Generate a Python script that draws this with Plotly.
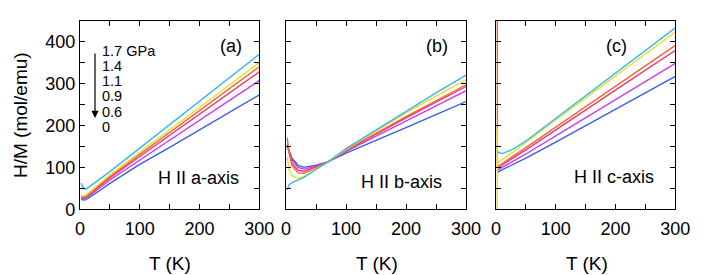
import plotly.graph_objects as go

W, H = 720, 275

pressures = ["0", "0.6", "0.9", "1.1", "1.4", "1.7"]
colors = ["#3a5ce8", "#cc3cee", "#ee3868", "#f2643a", "#e6de28", "#34b8f0"]

# Panel (a): H || a-axis
T_a = [2, 5, 10, 20, 30, 50, 100, 150, 200, 250, 300]
a_vals = {
    "0":   [24, 22, 23, 32, 42, 62, 107, 148, 190, 232, 273],
    "0.6": [27, 25, 27, 37, 48, 70, 118, 165, 213, 260, 307],
    "0.9": [28, 27, 29, 40, 52, 75, 126, 177, 228, 278, 328],
    "1.1": [30, 29, 31, 43, 55, 78, 131, 183, 236, 288, 340],
    "1.4": [34, 32, 34, 46, 58, 82, 136, 190, 243, 296, 350],
    "1.7": [62, 52, 48, 58, 68, 90, 146, 202, 258, 314, 370],
}

# Panel (b): H || b-axis
T_b = [2, 5, 10, 20, 30, 50, 70, 100, 150, 200, 250, 300]
b_vals = {
    "0":   [150, 140, 122, 105, 100, 105, 113, 134, 164, 195, 226, 257],
    "0.6": [152, 138, 118, 100, 96, 103, 113, 138, 175, 211, 247, 283],
    "0.9": [155, 135, 110, 93, 91, 101, 113, 140, 180, 218, 256, 293],
    "1.1": [171, 135, 104, 87, 86, 99, 113, 141, 182, 221, 259, 297],
    "1.4": [125, 95, 80, 74, 78, 96, 113, 143, 187, 230, 270, 309],
    "1.7": [46, 58, 64, 70, 76, 95, 113, 145, 190, 235, 278, 320],
}

# Panel (c): H || c-axis
T_c = {
    "0":   [2, 5, 10, 20, 30, 50, 100, 150, 200, 250, 300],
    "0.6": [2, 5, 10, 20, 30, 50, 100, 150, 200, 250, 300],
    "0.9": [2, 5, 10, 20, 30, 50, 100, 150, 200, 250, 300],
    "1.1": [2, 2.4, 5, 10, 20, 30, 50, 100, 150, 200, 250, 300],
    "1.4": [2, 2, 2.4, 5, 10, 20, 30, 50, 100, 150, 200, 250, 300],
    "1.7": [2, 5, 10, 20, 30, 50, 100, 150, 200, 250, 300],
}
c_vals = {
    "0":   [88, 91, 94, 101, 108, 122, 160, 199, 238, 277, 317],
    "0.6": [93, 96, 100, 108, 116, 132, 175, 218, 261, 305, 348],
    "0.9": [98, 101, 106, 115, 124, 142, 190, 237, 285, 332, 379],
    "1.1": [1000, 103, 104, 109, 118, 128, 147, 196, 245, 294, 342, 391],
    "1.4": [192, -100, 110, 114, 118, 128, 138, 160, 213, 266, 318, 371, 423],
    "1.7": [137, 135, 133, 138, 145, 163, 217, 271, 325, 379, 433],
}

panel_labels = ["(a)", "(b)", "(c)"]
axis_texts = ["H II a-axis", "H II b-axis", "H II c-axis"]
legend_labels = ["1.7 GPa", "1.4", "1.1", "0.9", "0.6", "0"]

# layout geometry (pixels)
x_dom_px = [(80, 259.3), (286, 466), (496, 675.3)]
y_top_px, y_bot_px = 20.7, 209.3

fig = go.Figure()

def add_panel(idx, Tdict, vals):
    xa = "x" if idx == 0 else f"x{idx+1}"
    ya = "y" if idx == 0 else f"y{idx+1}"
    for p, col in zip(pressures, colors):
        T = Tdict[p] if isinstance(Tdict, dict) else Tdict
        fig.add_trace(go.Scatter(x=T, y=vals[p], mode="lines",
                                 line=dict(color=col, width=1.4),
                                 xaxis=xa, yaxis=ya, showlegend=False,
                                 cliponaxis=True))

add_panel(0, T_a, a_vals)
add_panel(1, T_b, b_vals)
add_panel(2, T_c, c_vals)

font = "Liberation Sans, Arial, sans-serif"
layout = dict(
    template="none",
    width=W, height=H, margin=dict(l=0, r=0, t=0, b=0, pad=0),
    paper_bgcolor="white", plot_bgcolor="white",
    font=dict(family=font, color="black"),
)
ydom = [(H - y_bot_px) / H, (H - y_top_px) / H]
for i, (x0, x1) in enumerate(x_dom_px):
    sfx = "" if i == 0 else str(i + 1)
    layout["xaxis" + sfx] = dict(
        domain=[x0 / W, x1 / W], range=[0, 300], anchor="y" + sfx, automargin=False,
        showline=True, linecolor="black", linewidth=1.2, mirror="ticks",
        ticks="inside", ticklen=5, tickwidth=1.2, tickcolor="black",
        dtick=100, tick0=0, showgrid=False, zeroline=False,
        tickfont=dict(size=18, family=font), ticklabelstandoff=3,
        minor=dict(dtick=50, ticks="inside", ticklen=5, tickwidth=1.2, tickcolor="black", showgrid=False),
    )
    layout["yaxis" + sfx] = dict(
        domain=ydom, range=[0, 450], anchor="x" + sfx, automargin=False,
        showline=True, linecolor="black", linewidth=1.2, mirror="ticks",
        ticks="inside", ticklen=5, tickwidth=1.2, tickcolor="black",
        dtick=100, tick0=0, showgrid=False, zeroline=False,
        showticklabels=(i == 0),
        tickfont=dict(size=18, family=font),
        minor=dict(dtick=50, ticks="inside", ticklen=5, tickwidth=1.2, tickcolor="black", showgrid=False),
    )
fig.update_layout(**layout)

ann = []
# panel labels and axis texts
label_pos = [(231, 46), (437, 46), (616, 46)]
text_pos = [(198, 178), (401, 182), (614, 177)]
tk_pos = [169.5, 377, 587]
for i in range(3):
    ann.append(dict(text=panel_labels[i], x=label_pos[i][0] / W, y=1 - label_pos[i][1] / H,
                    xref="paper", yref="paper", showarrow=False, font=dict(size=18),
                    xanchor="center", yanchor="middle"))
    ann.append(dict(text=axis_texts[i], x=text_pos[i][0] / W, y=1 - text_pos[i][1] / H,
                    xref="paper", yref="paper", showarrow=False, font=dict(size=18),
                    xanchor="center", yanchor="middle"))
    ann.append(dict(text="T (K)", x=tk_pos[i] / W, y=1 - 263 / H,
                    xref="paper", yref="paper", showarrow=False, font=dict(size=19),
                    xanchor="center", yanchor="middle"))
ann.append(dict(text="H/M (mol/emu)", x=20 / W, y=1 - 115 / H, xref="paper", yref="paper",
                showarrow=False, textangle=-90, font=dict(size=19),
                xanchor="center", yanchor="middle"))
# legend text
leg_y = [50.7, 66, 81.2, 96.4, 111.6, 126.8]
for lab, yy in zip(legend_labels, leg_y):
    ann.append(dict(text=lab, x=101 / W, y=1 - yy / H, xref="paper", yref="paper",
                    showarrow=False, font=dict(size=14.5), xanchor="left", yanchor="middle",
                    borderpad=0))
# arrow
ann.append(dict(text="", x=95 / W, y=1 - 118 / H, ax=0, ay=-66,
                xref="paper", yref="paper", axref="pixel", ayref="pixel",
                showarrow=True, arrowhead=2, arrowsize=1.2, arrowwidth=1.2, arrowcolor="black"))
fig.update_layout(annotations=ann)

fig.write_html("out.html", config={"displayModeBar": False},
               post_script="document.body.style.margin='0px';document.body.style.overflow='hidden';")
